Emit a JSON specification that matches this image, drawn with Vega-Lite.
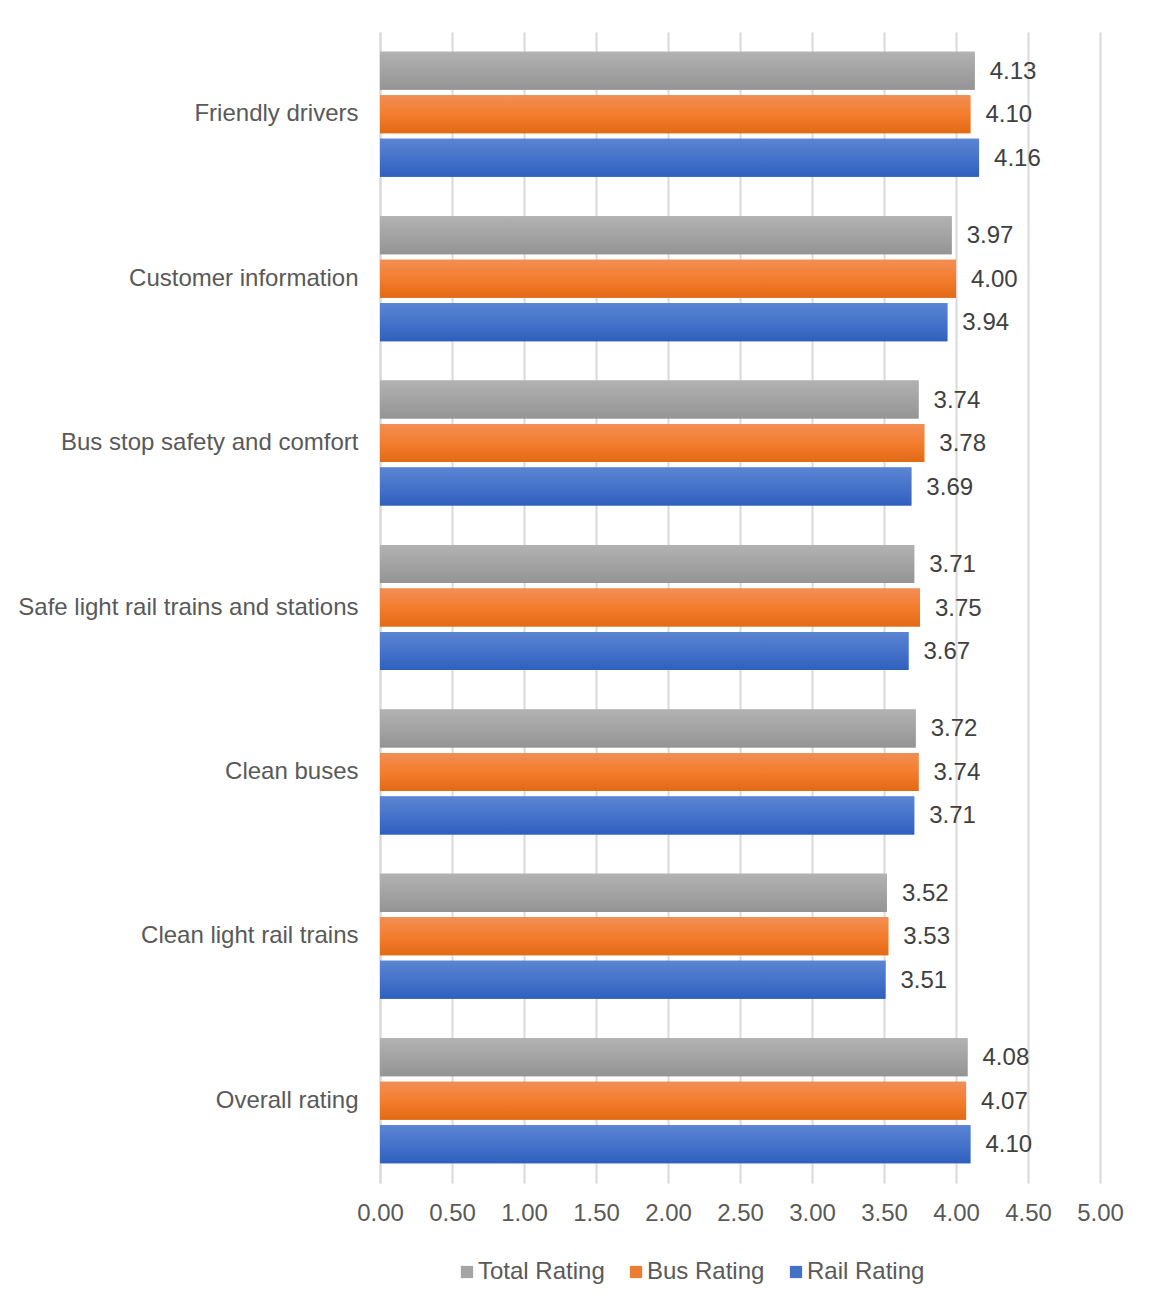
{
  "$schema": "https://vega.github.io/schema/vega-lite/v6.json",
  "width": 720,
  "height": 1151,
  "autosize": "none",
  "padding": {"left": 380, "top": 32, "right": 51, "bottom": 117},
  "background": "white",
  "config": {
    "font": "Liberation Sans",
    "view": {"stroke": null}
  },
  "data": {
    "values": [
      {"category": "Friendly drivers", "series": "Total Rating", "value": 4.13},
      {"category": "Friendly drivers", "series": "Bus Rating", "value": 4.10},
      {"category": "Friendly drivers", "series": "Rail Rating", "value": 4.16},
      {"category": "Customer information", "series": "Total Rating", "value": 3.97},
      {"category": "Customer information", "series": "Bus Rating", "value": 4.00},
      {"category": "Customer information", "series": "Rail Rating", "value": 3.94},
      {"category": "Bus stop safety and comfort", "series": "Total Rating", "value": 3.74},
      {"category": "Bus stop safety and comfort", "series": "Bus Rating", "value": 3.78},
      {"category": "Bus stop safety and comfort", "series": "Rail Rating", "value": 3.69},
      {"category": "Safe light rail trains and stations", "series": "Total Rating", "value": 3.71},
      {"category": "Safe light rail trains and stations", "series": "Bus Rating", "value": 3.75},
      {"category": "Safe light rail trains and stations", "series": "Rail Rating", "value": 3.67},
      {"category": "Clean buses", "series": "Total Rating", "value": 3.72},
      {"category": "Clean buses", "series": "Bus Rating", "value": 3.74},
      {"category": "Clean buses", "series": "Rail Rating", "value": 3.71},
      {"category": "Clean light rail trains", "series": "Total Rating", "value": 3.52},
      {"category": "Clean light rail trains", "series": "Bus Rating", "value": 3.53},
      {"category": "Clean light rail trains", "series": "Rail Rating", "value": 3.51},
      {"category": "Overall rating", "series": "Total Rating", "value": 4.08},
      {"category": "Overall rating", "series": "Bus Rating", "value": 4.07},
      {"category": "Overall rating", "series": "Rail Rating", "value": 4.10}
    ]
  },
  "encoding": {
    "y": {
      "field": "category",
      "type": "nominal",
      "sort": ["Friendly drivers", "Customer information", "Bus stop safety and comfort", "Safe light rail trains and stations", "Clean buses", "Clean light rail trains", "Overall rating"],
      "scale": {"paddingInner": 0.24, "paddingOuter": 0.12},
      "axis": {
        "title": null,
        "ticks": false,
        "domain": true,
        "domainColor": "#D9D9D9",
        "domainWidth": 2,
        "labelFontSize": 24,
        "labelColor": "#595959",
        "labelPadding": 22,
        "labelLimit": 400
      }
    },
    "yOffset": {
      "field": "series",
      "type": "nominal",
      "scale": {"domain": ["Total Rating", "Bus Rating", "Rail Rating"], "paddingInner": 0.126, "paddingOuter": 0}
    },
    "x": {
      "field": "value",
      "type": "quantitative",
      "scale": {"domain": [0, 5], "nice": false, "zero": true},
      "axis": {
        "title": null,
        "values": [0, 0.5, 1, 1.5, 2, 2.5, 3, 3.5, 4, 4.5, 5],
        "format": ".2f",
        "grid": true,
        "gridColor": "#D9D9D9",
        "gridWidth": 2,
        "domain": false,
        "ticks": false,
        "labelFlush": false,
        "labelFontSize": 24,
        "labelColor": "#595959",
        "labelPadding": 18
      }
    }
  },
  "layer": [
    {
      "mark": {"type": "bar"},
      "encoding": {
        "color": {
          "field": "series",
          "type": "nominal",
          "scale": {"domain": ["Total Rating", "Bus Rating", "Rail Rating"], "range": ["#A5A5A5", "#ED7D31", "#4472C4"]},
          "legend": {
            "title": null,
            "orient": "none",
            "direction": "horizontal",
            "legendX": 75,
            "legendY": 1228,
            "symbolType": "square",
            "symbolSize": 150,
            "symbolStrokeWidth": 0,
            "labelFontSize": 24,
            "labelColor": "#595959",
            "labelOffset": -1,
            "columnPadding": 19,
            "padding": 0
          }
        }
      }
    },
    {
      "transform": [{"filter": "datum.series === 'Total Rating'"}],
      "mark": {"type": "bar", "color": {"gradient": "linear", "x1": 0, "y1": 0, "x2": 0, "y2": 1, "stops": [{"offset": 0, "color": "#B2B2B2"}, {"offset": 1, "color": "#949494"}]}}
    },
    {
      "transform": [{"filter": "datum.series === 'Bus Rating'"}],
      "mark": {"type": "bar", "color": {"gradient": "linear", "x1": 0, "y1": 0, "x2": 0, "y2": 1, "stops": [{"offset": 0, "color": "#F18E55"}, {"offset": 0.5, "color": "#F47D2E"}, {"offset": 1, "color": "#E26A14"}]}}
    },
    {
      "transform": [{"filter": "datum.series === 'Rail Rating'"}],
      "mark": {"type": "bar", "color": {"gradient": "linear", "x1": 0, "y1": 0, "x2": 0, "y2": 1, "stops": [{"offset": 0, "color": "#5B85D3"}, {"offset": 0.5, "color": "#4673CA"}, {"offset": 1, "color": "#2F5FBE"}]}}
    },
    {
      "mark": {"type": "text", "align": "left", "baseline": "middle", "dx": 15, "dy": 1, "fontSize": 24, "color": "#404040"},
      "encoding": {
        "text": {"field": "value", "type": "quantitative", "format": ".2f"}
      }
    }
  ]
}
